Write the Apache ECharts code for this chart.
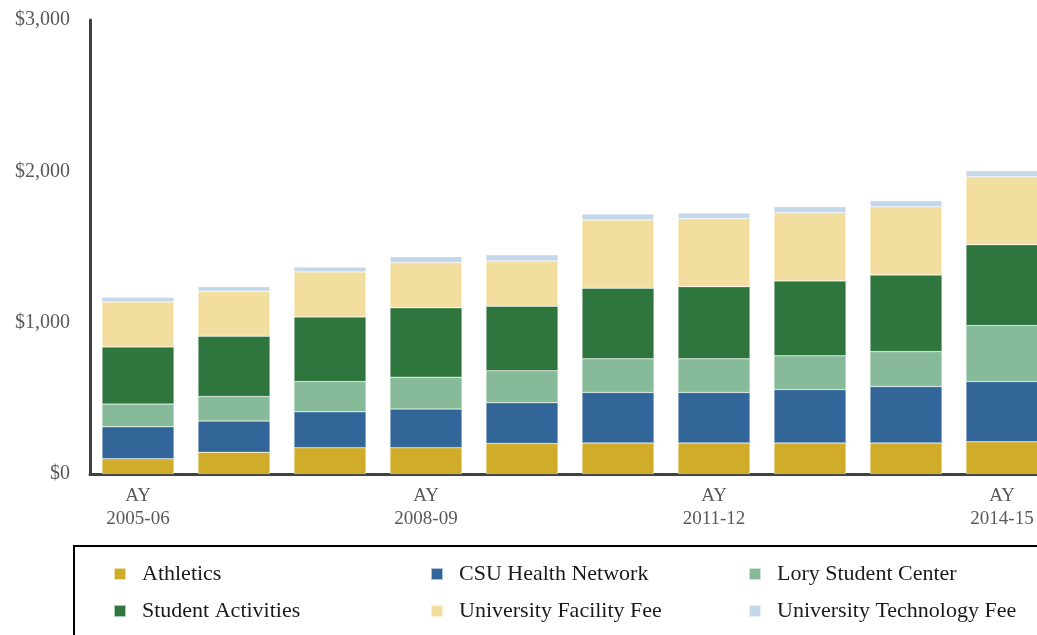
<!DOCTYPE html>
<html>
<head>
<meta charset="utf-8">
<script src="https://cdn.jsdelivr.net/npm/echarts@6/dist/echarts.min.js"></script>
<style>html,body{margin:0;padding:0;background:#fff;overflow:hidden}#c{width:1070px;height:635px}</style>
</head>
<body>
<div id="c"></div>
<script>
const categories = ['AY\n2005-06','AY\n2006-07','AY\n2007-08','AY\n2008-09','AY\n2009-10','AY\n2010-11','AY\n2011-12','AY\n2012-13','AY\n2013-14','AY\n2014-15'];
const athletics = [101,143,174,174,202,205,205,205,205,213];
const csuHealth = [211,207,237,255,269,334,334,353,373,398];
const lory = [150,162,200,211,211,222,222,223,231,370];
const studentActivities = [378,399,427,458,427,467,477,495,506,534];
const facilityFee = [297,297,297,299,299,451,449,451,451,449];
const techFee = [31,30,33,39,40,39,38,39,40,40];
const yTicks = [0,1000,2000,3000];

const names = ['Athletics','CSU Health Network','Lory Student Center','Student Activities','University Facility Fee','University Technology Fee'];
const colors = ['#D1AC2A','#326699','#86BA99','#2E763D','#F2DE9F','#C5D8EA'];
const values = [athletics,csuHealth,lory,studentActivities,facilityFee,techFee];
const font = '"Liberation Serif", "DejaVu Serif", serif';

const chart = echarts.init(document.getElementById('c'));
const legendCommon = {
  orient:'vertical', top:558, itemWidth:12, itemHeight:12, itemGap:15,
  icon:'rect', selectedMode:false,
  textStyle:{fontFamily:font, fontSize:22, color:'#1a1a1a', lineHeight:22, padding:[0,0,0,11]}
};
chart.setOption({
  animation:false,
  color:colors,
  grid:{left:90, top:20, height:454, width:960, containLabel:false},
  legend:[
    Object.assign({left:108, data:[names[0],names[3]]}, legendCommon),
    Object.assign({left:425, data:[names[1],names[4]]}, legendCommon),
    Object.assign({left:743, data:[names[2],names[5]]}, legendCommon)
  ],
  graphic:[{type:'rect', shape:{x:74,y:546,width:1030,height:120}, style:{fill:'none', stroke:'#000', lineWidth:2}, silent:true}],
  xAxis:{
    type:'category', data:categories,
    axisLine:{lineStyle:{color:'#404040', width:3}},
    axisTick:{show:false},
    axisLabel:{interval:2, fontFamily:font, fontSize:19, color:'#595959', lineHeight:23, margin:11}
  },
  yAxis:{
    type:'value', min:yTicks[0], max:yTicks[yTicks.length-1], interval:1000,
    splitLine:{show:false},
    axisLine:{show:true, lineStyle:{color:'#404040', width:3}},
    axisTick:{show:false},
    axisLabel:{fontFamily:font, fontSize:20, color:'#595959', margin:20,
      formatter:v=>'$'+v.toLocaleString('en-US')}
  },
  series:names.map((n,i)=>({
    name:n, type:'bar', stack:'total', data:values[i], barCategoryGap:'25%',
    itemStyle:{color:colors[i], borderColor:'rgba(255,255,255,0.6)', borderWidth:0.5}
  }))
});
</script>
</body>
</html>
